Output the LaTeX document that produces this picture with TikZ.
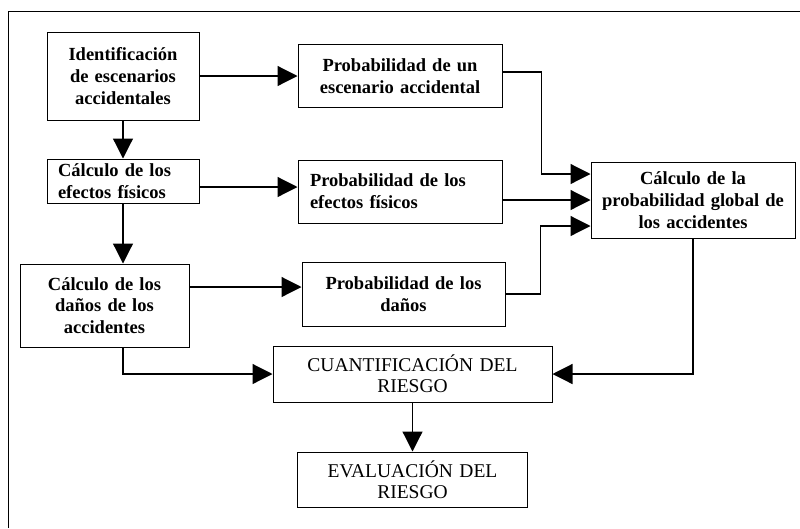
\documentclass[tikz,border=0pt]{standalone}
\usepackage{fontspec}
\setmainfont{Liberation Serif}
\usetikzlibrary{arrows.meta}

\begin{document}
\begin{tikzpicture}[x=1pt,y=-1pt]

	\tikzstyle stage box=[draw, line width=1pt, inner xsep=6pt, inner ysep=2pt, align=center, font=\fontsize{18.5}{21.7}\selectfont\bfseries];
	\tikzstyle result box=[draw, line width=1pt, inner xsep=6pt, inner ysep=2pt, align=center, font=\fontsize{19.5}{21}\selectfont];
	\tikzstyle flow lines=[line width=1.2pt, -{Triangle[length=20pt,width=20pt]}];

	\useasboundingbox (0,0) rectangle (800,528);
	\draw[line width=1pt] (8,528) -- (8,11) -- (800,11);

	% left column
	\node[stage box, text width=140pt, minimum height=88pt] (ident) at (123,76) {Identificación\\de escenarios\\accidentales};
	\node[stage box, text width=130pt, inner xsep=11pt, align=left, minimum height=44pt] (efectos) at (123,181) {Cálculo de los\\efectos físicos};
	\node[stage box, text width=157pt, minimum height=83pt] (danos) at (104.5,305.5) {Cálculo de los\\daños de los\\accidentes};

	% middle column
	\node[stage box, text width=192pt, minimum height=63pt] (pescen) at (400,76) {Probabilidad de un\\escenario accidental};
	\node[stage box, text width=180pt, inner xsep=12pt, align=left, minimum height=63pt] (pefect) at (400,191.5) {Probabilidad de los\\efectos físicos};
	\node[stage box, text width=191pt, minimum height=64pt] (pdanos) at (403.5,294) {Probabilidad de los\\daños};

	% right column
	\node[stage box, text width=192pt, minimum height=76pt] (global) at (693,200) {Cálculo de la\\probabilidad global de\\los accidentes};

	% bottom
	\node[result box, text width=267pt, minimum height=56pt] (cuant) at (412.5,374) {CUANTIFICACIÓN DEL\\RIESGO};
	\node[result box, text width=218pt, minimum height=55pt] (evalua) at (412.5,479.5) {EVALUACIÓN DEL\\RIESGO};

	\draw[flow lines] (ident) -- (pescen);
	\draw[flow lines] (ident) -- (efectos);
	\draw[flow lines] ([yshift=-6pt]efectos.east) -- ([yshift=-6pt]efectos.east -| pefect.west);
	\draw[flow lines] (efectos.south) -- (efectos.south |- danos.north);
	\draw[flow lines] ([yshift=7pt]danos.east |- pdanos) -- ([yshift=7pt]pdanos.west);
	\draw[flow lines] (efectos.south |- danos.south) |- (cuant.west);
	\draw[flow lines] (cuant) -- (evalua);
	\draw[flow lines] (global.south) |- (cuant.east);

	\draw[flow lines] ([yshift=4pt]pescen.east) -- ++(39,0) |- ([yshift=26pt]global.west);
	\draw[flow lines] (pefect.east |- global) -- (global.west);
	\draw[flow lines] (pdanos.east) -- ++(35,0) |- ([yshift=-26pt]global.west);

\end{tikzpicture}
\end{document}
